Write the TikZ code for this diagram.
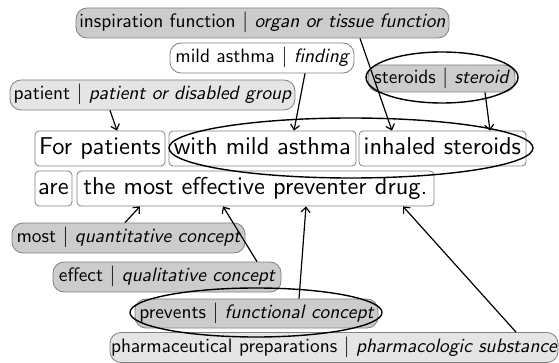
\documentclass[tikz,border=0pt]{standalone}
\usetikzlibrary{arrows.meta,shapes.geometric}
\font\mywordf=cmss10 at 24.4pt
\font\mylabf=cmss10 at 19.4pt
\font\mylabi=cmssi10 at 19.4pt
\newcommand\mytag[2]{#1 $|$ {\mylabi #2}}
\begin{document}
\begin{tikzpicture}[x=1pt,y=-1pt]
\tikzset{
 lab/.style={draw=black!50, line width=0.8pt, rounded corners=11pt, minimum height=30pt, inner xsep=0pt, inner ysep=0pt, font=\fontsize{19.4}{22}\selectfont\mylabf, text height=13.5pt, text depth=4pt},
 dark/.style={lab, fill=black!20},
 light/.style={lab, fill=black!10},
 plain/.style={lab, fill=white},
 word/.style={draw=black!50, line width=0.8pt, rounded corners=4pt, minimum height=35pt, inner xsep=0pt, inner ysep=0pt, font=\fontsize{24.4}{28}\selectfont\mywordf, text height=17pt, text depth=5pt, fill=white},
 ring/.style={draw=black, line width=1.4pt, ellipse, inner sep=0pt},
 link/.style={line width=1.2pt, -{Straight Barb[length=5pt,width=9pt]}},
}
\useasboundingbox (0,0) rectangle (559,363);
% labels above
\node[dark, minimum width=373pt] (insp) at (262.5,23) {\mytag{inspiration function}{organ or tissue function}};
\node[plain, minimum width=184pt] (mild) at (262,58) {\mytag{mild asthma}{finding}};
\node[light, minimum width=285pt] (pat) at (152.5,95) {\mytag{patient}{patient or disabled group}};
\node[dark, minimum width=147pt, minimum height=27pt] (ster) at (441.5,78.5) {\mytag{steroids}{steroid}};
% sentence
\node[word, minimum width=130pt] (w1) at (100,148.5) {For patients};
\node[word, minimum width=187pt] (w2) at (262.5,148.5) {with mild asthma};
\node[word, minimum width=167pt] (w3) at (442.5,148.5) {inhaled steroids};
\node[word, minimum width=37pt] (w4) at (53.5,188.5) {are};
\node[word, minimum width=357pt] (w5) at (255.5,188.5) {the most effective preventer drug.};
% labels below
\node[dark, minimum width=233pt] (most) at (128.5,238) {\mytag{most}{quantitative concept}};
\node[dark, minimum width=228pt] (eff) at (167,277) {\mytag{effect}{qualitative concept}};
\node[dark, minimum width=243pt, minimum height=29pt] (prev) at (256.5,313.5) {\mytag{prevents}{functional concept}};
\node[light, minimum width=448pt] (pharm) at (334,347.5) {\mytag{pharmaceutical preparations}{pharmacologic substance}};
% ellipses
\node[ring, minimum width=364pt, minimum height=60pt] (e1) at (351,148) {};
\node[ring, minimum width=152pt, minimum height=51pt] (e2) at (442,77.5) {};
\node[ring, minimum width=252pt, minimum height=49pt] (e3) at (256,312.5) {};
% arrows
\draw[link] ([xshift=-42.5pt]pat.south) -- ([xshift=17pt]w1.north);
\draw[link] ([xshift=43pt]mild.south) -- ([xshift=31.5pt]w2.north);
\draw[link] ([xshift=97.5pt]insp.south) -- ([xshift=-50.5pt]w3.north);
\draw[link] ([xshift=43.5pt]ster.south) -- ([xshift=47.5pt]w3.north);
\draw[link] ([xshift=-3.5pt]most.north) -- ([xshift=-115.5pt]w5.south);
\draw[link] ([xshift=90pt]eff.north) -- ([xshift=-32.5pt]w5.south);
\draw[link] ([xshift=42.5pt]prev.north) -- ([xshift=50.5pt]w5.south);
\draw[link] ([xshift=182pt]pharm.north) -- ([xshift=147.5pt]w5.south);
\end{tikzpicture}
\end{document}
